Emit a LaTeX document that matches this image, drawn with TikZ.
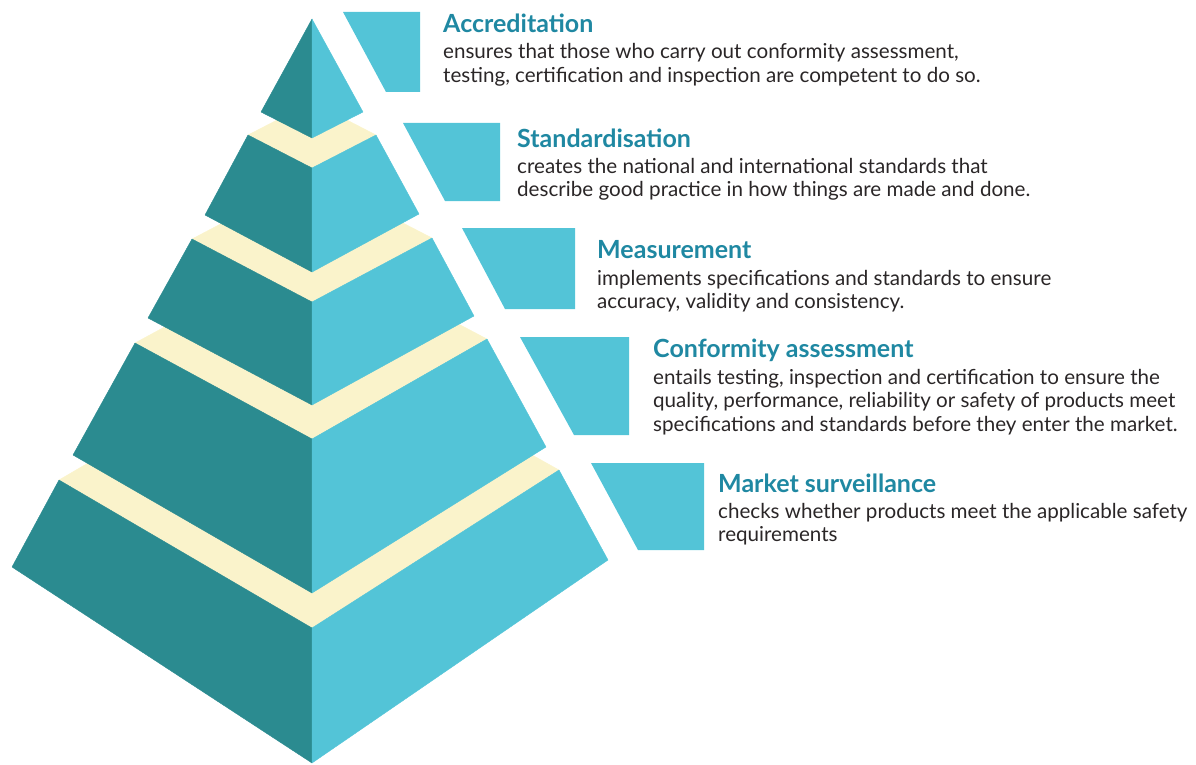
\documentclass[tikz,border=0pt]{standalone}
\usepackage{fontspec}
\setmainfont{Lato}
\definecolor{darkteal}{HTML}{2B8B90}
\definecolor{lightcyan}{HTML}{53C4D7}
\definecolor{creamtop}{HTML}{FAF3CB}
\definecolor{titleblue}{HTML}{1F88A2}
\definecolor{bodytext}{HTML}{2A2627}
\tikzset{
  leftface/.style={fill=darkteal,draw=darkteal,line width=0.4pt,line join=round},
  rightface/.style={fill=lightcyan,draw=lightcyan,line width=0.4pt,line join=round},
  topface/.style={fill=creamtop,draw=creamtop,line width=0.4pt,line join=round},
  sidebox/.style={fill=lightcyan},
  titletext/.style={inner sep=0pt,anchor=base west,text=titleblue,font=\fontsize{25}{30}\selectfont\bfseries},
  bodytxt/.style={inner sep=0pt,anchor=base west,align=left,text=bodytext,font=\fontsize{20.6}{23.5}\selectfont}
}
\begin{document}
\begin{tikzpicture}[x=1pt,y=-1pt]
\useasboundingbox (0,0) rectangle (1196,765);
% ---- tier 5 (bottom)
\path[topface] (59,480) -- (312,628) -- (559,470) -- (312,332) -- cycle;
\path[leftface] (59,480) -- (312,628) -- (312,763) -- (12,567) -- cycle;
\path[rightface] (312,628) -- (559,470) -- (608,560) -- (312,763) -- cycle;
% ---- tier 4
\path[topface] (135,343) -- (312,439) -- (487,339) -- (312,247) -- cycle;
\path[leftface] (135,343) -- (312,439) -- (312,593) -- (73,455) -- cycle;
\path[rightface] (312,439) -- (487,339) -- (546,447) -- (312,593) -- cycle;
% ---- tier 3
\path[topface] (192,239) -- (312,302) -- (432,238) -- (312,176) -- cycle;
\path[leftface] (192,239) -- (312,302) -- (312,405) -- (148,318) -- cycle;
\path[rightface] (312,302) -- (432,238) -- (474,316) -- (312,405) -- cycle;
% ---- tier 2
\path[topface] (248,135) -- (312,168) -- (376,135) -- (312,102) -- cycle;
\path[leftface] (248,135) -- (312,168) -- (312,272) -- (205,215) -- cycle;
\path[rightface] (312,168) -- (376,135) -- (419,214) -- (312,272) -- cycle;
% ---- tier 1 (apex)
\path[leftface] (312,19) -- (312,138) -- (261,112) -- cycle;
\path[rightface] (312,19) -- (363,112) -- (312,138) -- cycle;
% ---- side boxes
\path[sidebox] (343,12) -- (420,12) -- (420,92) -- (386,92) -- cycle;
\path[sidebox] (403,123) -- (500,123) -- (500,201) -- (445,201) -- cycle;
\path[sidebox] (462,228) -- (575,228) -- (575,309) -- (505,309) -- cycle;
\path[sidebox] (520,337) -- (629,337) -- (629,435) -- (574,435) -- cycle;
\path[sidebox] (591,463) -- (704,463) -- (704,550) -- (638,550) -- cycle;
% ---- texts (body nodes anchored at the baseline of their last line)
\node[titletext] (t1) at (443,33) {Accreditation};
\node[bodytxt] (b1) at (443,82.5) {ensures that those who carry out conformity assessment,\\testing, certification and inspection are competent to do so.};
\node[titletext] (t2) at (517,147) {Standardisation};
\node[bodytxt] (b2) at (517,196.5) {creates the national and international standards that\\describe good practice in how things are made and done.};
\node[titletext] (t3) at (597,258) {Measurement};
\node[bodytxt] (b3) at (597,308.5) {implements specifications and standards to ensure\\accuracy, validity and consistency.};
\node[titletext] (t4) at (653,357) {Conformity assessment};
\node[bodytxt] (b4) at (653,431) {entails testing, inspection and certification to ensure the\\quality, performance, reliability or safety of products meet\\specifications and standards before they enter the market.};
\node[titletext] (t5) at (718,492) {Market surveillance};
\node[bodytxt] (b5) at (718,541.5) {checks whether products meet the applicable safety\\requirements};
\end{tikzpicture}
\end{document}
